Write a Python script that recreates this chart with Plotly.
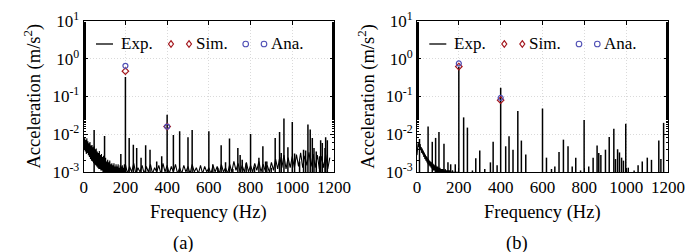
import numpy as np
import plotly.graph_objects as go

# ---------------- data ----------------
# noise-floor sample grids (Hz)
floor_lo_freq = np.arange(0, 200, 2.5)      # 80 samples
floor_hi_freq = np.arange(200, 1190, 10)    # 99 samples

# (a) experimental noise floor (m/s^2)
exp_a_floor_lo = [
    0.0075, 0.0040, 0.0080, 0.0035, 0.0070, 0.0030, 0.0078, 0.0032,
    0.0065, 0.0028, 0.0058, 0.0025, 0.0062, 0.0022, 0.0050, 0.0020,
    0.0052, 0.0019, 0.0045, 0.0017, 0.0048, 0.0016, 0.0040, 0.0015,
    0.0042, 0.0014, 0.0035, 0.0013, 0.0032, 0.0012, 0.0036, 0.0012,
    0.0028, 0.0011, 0.0030, 0.0011, 0.0025, 0.0010, 0.0027, 0.0010,
    0.0022, 0.0010, 0.0024, 0.0009, 0.0019, 0.0010, 0.0021, 0.0009,
    0.0018, 0.0009, 0.0020, 0.0009, 0.0016, 0.0009, 0.0017, 0.0009,
    0.0015, 0.0009, 0.0017, 0.0009, 0.0014, 0.0009, 0.0016, 0.0009,
    0.0014, 0.0009, 0.0016, 0.0009, 0.0013, 0.0009, 0.0015, 0.0009,
    0.0014, 0.0009, 0.0015, 0.0009, 0.0013, 0.0009, 0.0016, 0.0009,
]
exp_a_floor_hi = [
    0.0016, 0.0009, 0.0014, 0.0010, 0.0017, 0.0009, 0.0013, 0.0010, 0.0015, 0.0009,
    0.0014, 0.0010, 0.0016, 0.0009, 0.0013, 0.0010, 0.0015, 0.0009, 0.0017, 0.0010,
    0.0015, 0.0009, 0.0014, 0.0010, 0.0016, 0.0009, 0.0013, 0.0009, 0.0015, 0.0010,
    0.0014, 0.0009, 0.0016, 0.0010, 0.0013, 0.0009, 0.0015, 0.0009, 0.0014, 0.0010,
    0.0013, 0.0009, 0.0015, 0.0010, 0.0014, 0.0009, 0.0016, 0.0010, 0.0013, 0.0009,
    0.0016, 0.0010, 0.0019, 0.0011, 0.0017, 0.0010, 0.0015, 0.0010, 0.0018, 0.0010,
    0.0015, 0.0010, 0.0017, 0.0011, 0.0019, 0.0010, 0.0016, 0.0011, 0.0015, 0.0010,
    0.0018, 0.0011, 0.0022, 0.0012, 0.0025, 0.0013, 0.0028, 0.0012, 0.0024, 0.0013,
    0.0026, 0.0013, 0.0029, 0.0014, 0.0032, 0.0013, 0.0027, 0.0015, 0.0033, 0.0014,
    0.0030, 0.0013, 0.0028, 0.0012, 0.0026, 0.0013, 0.0029, 0.0012, 0.0024,
]
# (a) experimental spectral lines
exp_a_line_freq = [50, 100, 178, 200, 218, 238, 254, 275, 297, 318, 350, 374, 400,
                   430, 460, 500, 520, 600, 619, 643, 659, 680, 699, 715, 739, 750,
                   760, 779, 800, 819, 840, 859, 872, 878, 899, 918, 939, 947, 960,
                   979, 1000, 1011, 1035, 1054, 1064, 1075, 1086, 1096, 1104, 1115,
                   1131, 1136, 1144, 1157, 1160, 1168]
exp_a_line_amp = [0.013, 0.009, 0.0030, 0.33, 0.008, 0.0053, 0.0043, 0.0024, 0.0051,
                  0.0039, 0.0019, 0.0026, 0.033, 0.0095, 0.012, 0.0083, 0.013, 0.012,
                  0.0016, 0.0013, 0.0051, 0.0018, 0.0077, 0.0012, 0.0043, 0.0028,
                  0.0021, 0.0017, 0.0102, 0.0014, 0.0024, 0.0048, 0.0019, 0.0019,
                  0.0013, 0.008, 0.0115, 0.0032, 0.026, 0.0045, 0.021, 0.0031, 0.0019,
                  0.0039, 0.0037, 0.018, 0.0133, 0.008, 0.0043, 0.0035, 0.0026,
                  0.0069, 0.0059, 0.0043, 0.0083, 0.0069]

# (b) experimental noise floor (m/s^2)
exp_b_floor_lo = [
    0.0028, 0.0045, 0.0058, 0.0046, 0.0060, 0.0044, 0.0055, 0.0038,
    0.0046, 0.0032, 0.0042, 0.0029, 0.0037, 0.0025, 0.0033, 0.0022,
    0.0029, 0.0020, 0.0026, 0.0018, 0.0024, 0.0016, 0.0022, 0.0015,
    0.0020, 0.0014, 0.0019, 0.0013, 0.0018, 0.0012, 0.0017, 0.0011,
    0.0016, 0.0011, 0.0015, 0.0010, 0.0015, 0.0010, 0.0014, 0.0010,
    0.0014, 0.0009, 0.0013, 0.0009, 0.0013, 0.0009, 0.0012, 0.0009,
    0.0012, 0.0009, 0.0012, 0.0009, 0.0011, 0.0009, 0.0012, 0.0009,
    0.0011, 0.0009, 0.0011, 0.0009, 0.0011, 0.0009, 0.0011, 0.0009,
    0.0011, 0.0009, 0.0010, 0.0009, 0.0011, 0.0009, 0.0010, 0.0009,
    0.0010, 0.0009, 0.0010, 0.0009, 0.0010, 0.0009, 0.0010, 0.0009,
]
# (b) experimental spectral lines
exp_b_line_freq = [12, 53, 73, 89, 105, 129, 148, 161, 183, 200, 223, 241, 265, 281,
                   300, 324, 351, 364, 383, 400, 424, 440, 459, 482, 499, 520, 600,
                   619, 643, 659, 679, 700, 722, 742, 759, 782, 799, 821, 842, 861,
                   869, 879, 901, 919, 941, 949, 959, 968, 978, 987, 998, 1010, 1038,
                   1057, 1077, 1101, 1121, 1156, 1166, 1179]
exp_b_line_amp = [0.0075, 0.016, 0.0063, 0.008, 0.0115, 0.0056, 0.0018, 0.0016,
                  0.0016, 0.6, 0.028, 0.015, 0.0011, 0.0023, 0.0037, 0.0012, 0.0018,
                  0.0063, 0.0015, 0.17, 0.0048, 0.0089, 0.0039, 0.041, 0.0068,
                  0.0029, 0.048, 0.0024, 0.0012, 0.0014, 0.0034, 0.0072, 0.0048,
                  0.0014, 0.0024, 0.0011, 0.024, 0.0014, 0.0024, 0.005, 0.0032,
                  0.0028, 0.0039, 0.0084, 0.0139, 0.0022, 0.004, 0.0033, 0.0024,
                  0.002, 0.019, 0.0013, 0.0011, 0.0015, 0.0019, 0.0024, 0.0021,
                  0.0068, 0.0022, 0.02]

# simulated / analytical peaks
model_freq = [200, 400]
sim_a_amp = [0.47, 0.016]
ana_a_amp = [0.65, 0.016]
sim_b_amp = [0.62, 0.080]
ana_b_amp = [0.75, 0.092]

x_ticks = [0, 200, 400, 600, 800, 1000, 1200]
y_ticks = [1e-3, 1e-2, 1e-1, 1e0, 1e1]
y_ticktext = ["10<sup>-3</sup>", "10<sup>-2</sup>", "10<sup>-1</sup>",
              "10<sup>0</sup>", "10<sup>1</sup>"]

# ---------------- styling ----------------
W, H = 697, 252
FONT = "Liberation Serif, Times New Roman, DejaVu Serif, serif"
TICK_SIZE = 17
TITLE_SIZE = 18.5
LEG_SIZE = 17
SIM_COLOR = "#a3151b"
ANA_COLOR = "#4f4fb5"
GRID = "#dadada"
STEM_BASE = 8e-4


def px(x):
    return x / W


def py(y):
    return 1 - y / H


def stems(freqs, amps):
    xs, ys = [], []
    for f, a in zip(freqs, amps):
        xs += [f, f, None]
        ys += [STEM_BASE, a, None]
    return xs, ys


fig = go.Figure()

panels = [
    ("x", "y", exp_a_floor_lo, exp_a_floor_hi, exp_a_line_freq, exp_a_line_amp, sim_a_amp, ana_a_amp),
    ("x2", "y2", exp_b_floor_lo, None, exp_b_line_freq, exp_b_line_amp, sim_b_amp, ana_b_amp),
]
for xa, ya, flo, fhi, lf, la, sa, aa in panels:
    fig.add_trace(go.Scatter(x=floor_lo_freq, y=flo, mode="lines", xaxis=xa, yaxis=ya,
                             line=dict(color="black", width=1.1), showlegend=False))
    if fhi is not None:
        fig.add_trace(go.Scatter(x=floor_hi_freq, y=fhi, mode="lines", xaxis=xa, yaxis=ya,
                                 line=dict(color="black", width=1.1), showlegend=False))
    sx, sy = stems(lf, la)
    fig.add_trace(go.Scatter(x=sx, y=sy, mode="lines", xaxis=xa, yaxis=ya,
                             line=dict(color="black", width=1.5), showlegend=False))
    fig.add_trace(go.Scatter(x=model_freq, y=sa, mode="markers", xaxis=xa, yaxis=ya,
                             marker=dict(symbol="diamond-open", size=5, color=SIM_COLOR,
                                         line=dict(width=1.2, color=SIM_COLOR)),
                             showlegend=False))
    fig.add_trace(go.Scatter(x=model_freq, y=aa, mode="markers", xaxis=xa, yaxis=ya,
                             marker=dict(symbol="circle-open", size=5, color=ANA_COLOR,
                                         line=dict(width=1.2, color=ANA_COLOR)),
                             showlegend=False))

xcommon = dict(range=[0, 1200], tickvals=x_ticks, ticks="inside", ticklen=4,
               tickcolor="black", showline=True, linecolor="black", linewidth=1,
               mirror="ticks", showgrid=True, gridcolor=GRID, griddash="1px,2px",
               gridwidth=1, zeroline=False, automargin=False,
               tickfont=dict(family=FONT, size=TICK_SIZE, color="black"))
ycommon = dict(type="log", range=[-3, 1], tickvals=y_ticks, ticktext=y_ticktext,
               ticks="inside", ticklen=4, tickcolor="black", showline=True,
               linecolor="black", linewidth=1, mirror="ticks", showgrid=True,
               gridcolor=GRID, griddash="1px,2px", gridwidth=1, zeroline=False,
               automargin=False, domain=[py(164), py(13)],
               minor=dict(ticks="inside", ticklen=2, tickcolor="black", showgrid=False),
               tickfont=dict(family=FONT, size=TICK_SIZE, color="black"))

fig.update_layout(
    width=W, height=H, margin=dict(l=0, r=0, t=0, b=0),
    paper_bgcolor="white", plot_bgcolor="white",
    font=dict(family=FONT, size=TICK_SIZE, color="black"),
    showlegend=False,
    xaxis=dict(domain=[px(75.7), px(326)], anchor="y", **xcommon),
    yaxis=dict(anchor="x", **ycommon),
    xaxis2=dict(domain=[px(409), px(660)], anchor="y2", **xcommon),
    yaxis2=dict(anchor="x2", **ycommon),
)

annotations = []
shapes = []
for off, lab, xc in [(0, "(a)", 175), (333.3, "(b)", 509)]:
    annotations.append(dict(text="Frequency (Hz)", x=px(200.8 + off), y=py(204), xref="paper",
                            yref="paper", showarrow=False, xanchor="center", yanchor="middle",
                            font=dict(family=FONT, size=TITLE_SIZE)))
    annotations.append(dict(text=lab, x=px(xc), y=py(235.5), xref="paper", yref="paper",
                            showarrow=False, xanchor="center", yanchor="middle",
                            font=dict(family=FONT, size=TITLE_SIZE)))
    annotations.append(dict(text="Acceleration (m/s<sup>2</sup>)", x=px(25 + off), y=py(88.5),
                            xref="paper", yref="paper", showarrow=False, textangle=-90,
                            xanchor="center", yanchor="middle",
                            font=dict(family=FONT, size=TITLE_SIZE)))
    # legend (manual, MATLAB style)
    ly = 36
    for txt, tx in [("Exp.", 111), ("Sim.", 186), ("Ana.", 261)]:
        annotations.append(dict(text=txt, x=px(tx + off), y=py(ly), xref="paper", yref="paper",
                                showarrow=False, xanchor="left", yanchor="middle",
                                font=dict(family=FONT, size=LEG_SIZE)))
    shapes.append(dict(type="line", xref="paper", yref="paper", x0=px(88 + off), x1=px(105 + off),
                       y0=py(ly), y1=py(ly), line=dict(color="black", width=1.3)))
    for cx in (163, 181):
        cx = cx + off
        d = 3.3
        path = (f"M {px(cx)},{py(ly - d)} L {px(cx + d * 0.75)},{py(ly)} "
                f"L {px(cx)},{py(ly + d)} L {px(cx - d * 0.75)},{py(ly)} Z")
        shapes.append(dict(type="path", xref="paper", yref="paper", path=path,
                           line=dict(color=SIM_COLOR, width=1.2)))
    for cx in (237.7, 256):
        cx = cx + off
        r = 2.8
        shapes.append(dict(type="circle", xref="paper", yref="paper",
                           x0=px(cx - r), x1=px(cx + r), y0=py(ly + r), y1=py(ly - r),
                           line=dict(color=ANA_COLOR, width=1.1)))

fig.update_layout(annotations=annotations, shapes=shapes)
fig.write_html("out.html")
